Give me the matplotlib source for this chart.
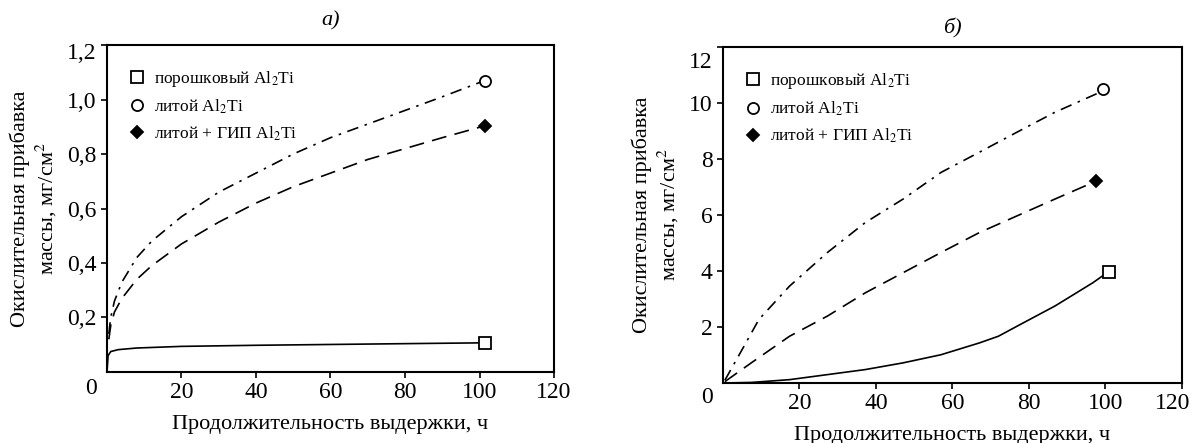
import matplotlib
matplotlib.use("Agg")
import matplotlib.pyplot as plt
from matplotlib.ticker import FuncFormatter
from matplotlib.transforms import ScaledTranslation

plt.rcParams["font.family"] = ["Liberation Serif", "DejaVu Serif"]
plt.rcParams["mathtext.fontset"] = "stix"

# panel a) - oxidation mass gain, mg/cm2 vs time, h
a_powder_x = [0, 0.3, 1, 3, 8, 20, 40, 60, 80, 101]
a_powder_y = [0, 0.06, 0.075, 0.082, 0.088, 0.094, 0.098, 0.101, 0.104, 0.107]
a_cast_x = [0.5, 1, 2, 4, 8, 12, 20, 30, 40, 50, 60, 70, 80, 90, 100.5]
a_cast_y = [0.14, 0.2, 0.26, 0.33, 0.42, 0.48, 0.57, 0.66, 0.73, 0.80, 0.86, 0.91, 0.96, 1.01, 1.065]
a_hip_x = [0.5, 1, 2, 4, 8, 12, 20, 30, 40, 50, 60, 70, 80, 90, 100.5]
a_hip_y = [0.12, 0.17, 0.22, 0.27, 0.34, 0.39, 0.47, 0.55, 0.62, 0.68, 0.73, 0.78, 0.82, 0.86, 0.9]
a_ends = {"powder": (101.5, 0.107), "cast": (101.5, 1.068), "hip": (101.5, 0.903)}

# panel б)
b_powder_x = [0, 7.4, 17.4, 27.3, 37.2, 47.1, 57, 67, 72, 76.9, 86.8, 96.7, 99.5]
b_powder_y = [0, 0.02, 0.12, 0.3, 0.48, 0.72, 1.01, 1.43, 1.67, 2.03, 2.75, 3.58, 3.85]
b_cast_x = [0.5, 4.5, 9.4, 17.4, 27.3, 37.2, 47.1, 57, 67, 76.9, 86.8, 96.7, 99.3]
b_cast_y = [0.1, 1.07, 2.27, 3.46, 4.66, 5.73, 6.57, 7.52, 8.24, 8.96, 9.67, 10.27, 10.43]
b_hip_x = [0.5, 7.4, 17.4, 27.3, 37.2, 47.1, 57, 67, 76.9, 86.8, 94.7, 97.5]
b_hip_y = [0.05, 0.72, 1.67, 2.39, 3.22, 3.94, 4.66, 5.37, 5.97, 6.57, 7.04, 7.18]
b_ends = {"powder": (101, 3.96), "cast": (99.3, 10.5), "hip": (97.5, 7.2)}

labels = {"powder": "порошковый Al$_2$Ti",
          "cast": "литой Al$_2$Ti",
          "hip": "литой + ГИП Al$_2$Ti"}
markers = {"powder": ("s", "white", 8), "cast": ("o", "white", 8), "hip": ("D", "black", 6.5)}

xticks = [20, 40, 60, 80, 100, 120]

fig = plt.figure(figsize=(11.94, 4.43), dpi=100)
ax1 = fig.add_axes([0.0896, 0.1603, 0.3744, 0.738])
ax2 = fig.add_axes([0.6055, 0.1354, 0.3844, 0.7585])


def draw(ax, curves, ends, ymax, yticks, fmt, title, tpad, ytop_shift, zero_y):
    (px, py), (cx, cy), (hx, hy) = curves
    ax.plot(px, py, color="black", lw=1.2, ls="-")
    ax.plot(cx, cy, color="black", lw=1.2, ls=(0, (7, 4, 1.5, 4)))
    ax.plot(hx, hy, color="black", lw=1.2, ls=(0, (9, 5)))
    for key in ["powder", "cast", "hip"]:
        m, fc, ms = markers[key]
        ax.plot([ends[key][0]], [ends[key][1]], ls="none", marker=m, ms=ms,
                mfc=fc, mec="black", mew=1.3, label=labels[key])
    ax.set_xlim(0, 120)
    ax.set_ylim(0, ymax)
    ax.set_xticks(xticks)
    ax.set_yticks(yticks)
    ax.yaxis.set_major_formatter(FuncFormatter(fmt))
    ax.tick_params(direction="out", length=4, width=1.2, labelsize=17)
    for s in ax.spines.values():
        s.set_linewidth(1.5)
    ax.set_xlabel("Продолжительность выдержки, ч", fontsize=16, labelpad=8)
    ax.set_ylabel("Окислительная прибавка\nмассы, мг/см$^2$", fontsize=16, labelpad=6)
    ax.set_title(title, fontsize=16, style="italic", pad=tpad)
    ax.text(-0.035, zero_y, "0", transform=ax.transAxes, fontsize=17,
            ha="center", va="top")
    # top y label sits a little lower than its tick, as in the source figure
    lab = ax.get_yticklabels()[-1]
    lab.set_transform(lab.get_transform() + ScaledTranslation(0, -ytop_shift / 72, fig.dpi_scale_trans))
    ax.legend(loc="upper left", bbox_to_anchor=(0.02, 0.965), frameon=False,
              fontsize=12.5, handlelength=1.0, handletextpad=0.5,
              labelspacing=0.5, borderaxespad=0.3)


draw(ax1, [(a_powder_x, a_powder_y), (a_cast_x, a_cast_y), (a_hip_x, a_hip_y)],
     a_ends, 1.2, [0.2, 0.4, 0.6, 0.8, 1.0, 1.2],
     lambda v, p: f"{v:.1f}".replace(".", ","), "а)", 14, 4, -0.018)
draw(ax2, [(b_powder_x, b_powder_y), (b_cast_x, b_cast_y), (b_hip_x, b_hip_y)],
     b_ends, 12, [2, 4, 6, 8, 10, 12],
     lambda v, p: f"{v:.0f}", "б)", 10, 9, -0.012)

# last x label of the right panel is pulled in so it stays inside the image
lab = ax2.get_xticklabels()[-1]
lab.set_transform(lab.get_transform() + ScaledTranslation(-7 / 72, 0, fig.dpi_scale_trans))

fig.savefig("out.png", dpi=100)
